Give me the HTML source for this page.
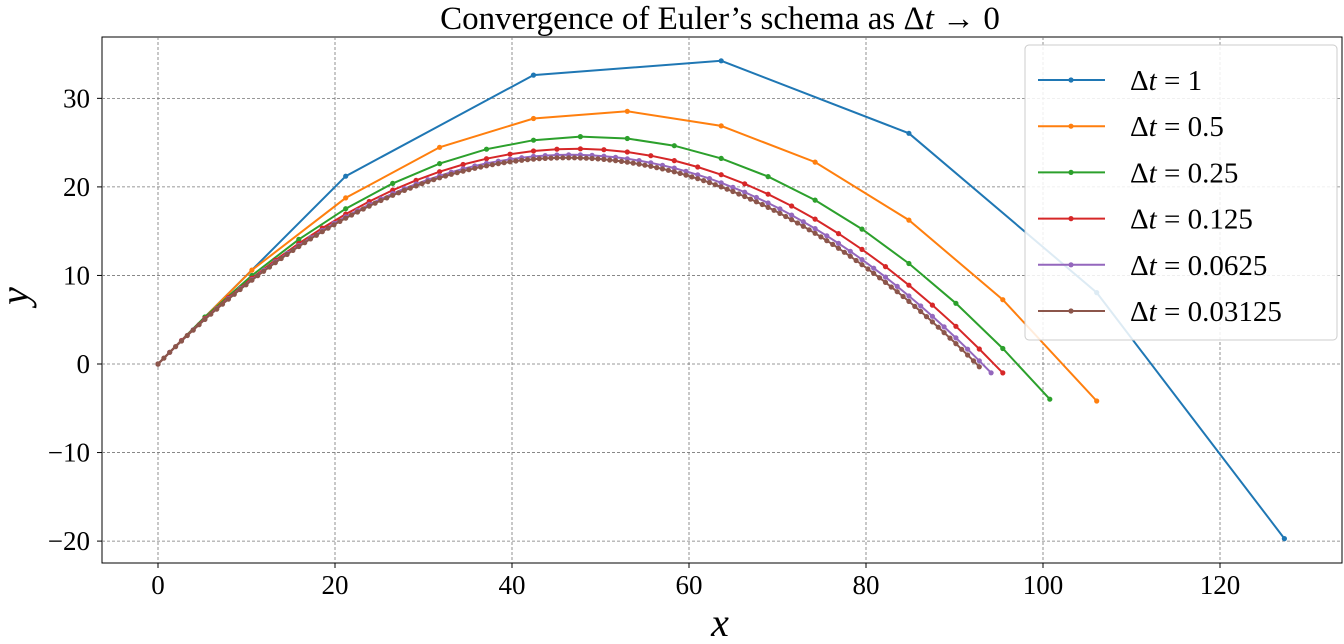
<!DOCTYPE html>
<html><head><meta charset="utf-8"><style>
body{margin:0;background:#fff}
svg text{font-family:"Liberation Serif",serif}
</style></head><body>
<svg id="s" width="1344" height="639" xmlns="http://www.w3.org/2000/svg"></svg>
<script>
const s=document.getElementById('s');
const X0=102,X1=1342,Y0=37,Y1=563;
const px=x=>158+x*8.85, py=y=>364-y*8.855;
let h='';
h+=`<rect x="${X0}" y="${Y0}" width="${X1-X0}" height="${Y1-Y0}" fill="#fff" stroke="#000" stroke-width="1"/>`;
for(let x=0;x<=120;x+=20){const p=px(x);
 h+=`<line x1="${p}" y1="${Y0}" x2="${p}" y2="${Y1}" stroke="#777" stroke-width="0.8" stroke-dasharray="3,2"/>`;
 h+=`<line x1="${p}" y1="${Y1}" x2="${p}" y2="${Y1+5}" stroke="#000"/>`;
 h+=`<text x="${p}" y="${Y1+31}" font-size="27" text-anchor="middle">${x}</text>`;}
for(let y=-20;y<=30;y+=10){const p=py(y);
 h+=`<line x1="${X0}" y1="${p}" x2="${X1}" y2="${p}" stroke="#777" stroke-width="0.8" stroke-dasharray="3,2"/>`;
 h+=`<line x1="${X0-5}" y1="${p}" x2="${X0}" y2="${p}" stroke="#000"/>`;
 h+=`<text x="${X0-12}" y="${p+9}" font-size="27" text-anchor="end">${y<0?'−'+(-y):y}</text>`;}
const cols=['#1f77b4','#ff7f0e','#2ca02c','#d62728','#9467bd','#8c564b'];
const dts=[1,0.5,0.25,0.125,0.0625,0.03125];
const v=30*Math.SQRT1_2;
dts.forEach((dt,i)=>{
 let x=0,y=0,vy=v,pts=[[0,0]];
 do{x+=v*dt;y+=vy*dt;vy-=9.8*dt;pts.push([x,y]);}while(y>=0&&pts.length<1000);
 h+=`<polyline fill="none" stroke="${cols[i]}" stroke-width="2" points="${pts.map(p=>px(p[0]).toFixed(1)+','+py(p[1]).toFixed(1)).join(' ')}"/>`;
 pts.forEach(p=>h+=`<circle cx="${px(p[0]).toFixed(1)}" cy="${py(p[1]).toFixed(1)}" r="2.6" fill="${cols[i]}"/>`);
});
h+=`<rect x="1025" y="45" width="312" height="295" rx="4" fill="#fff" fill-opacity="0.85" stroke="#ccc"/>`;
const labs=['1','0.5','0.25','0.125','0.0625','0.03125'];
labs.forEach((l,i)=>{const y=80+i*46.2;
 h+=`<line x1="1038" y1="${y}" x2="1105" y2="${y}" stroke="${cols[i]}" stroke-width="2"/><circle cx="1071" cy="${y}" r="2.6" fill="${cols[i]}"/>`;
 h+=`<text x="1130" y="${y+10}" font-size="29">Δ<tspan font-style="italic">t</tspan> = ${l}</text>`;});
h+=`<text x="720" y="29" font-size="33" text-anchor="middle">Convergence of Euler’s schema as Δ<tspan font-style="italic">t</tspan> → 0</text>`;
h+=`<text x="720" y="636" font-size="40" font-style="italic" text-anchor="middle">x</text>`;
h+=`<text x="28" y="296" font-size="40" font-style="italic" text-anchor="middle" transform="rotate(-90 28 296)">y</text>`;
s.innerHTML=h;
</script>
</body></html>
